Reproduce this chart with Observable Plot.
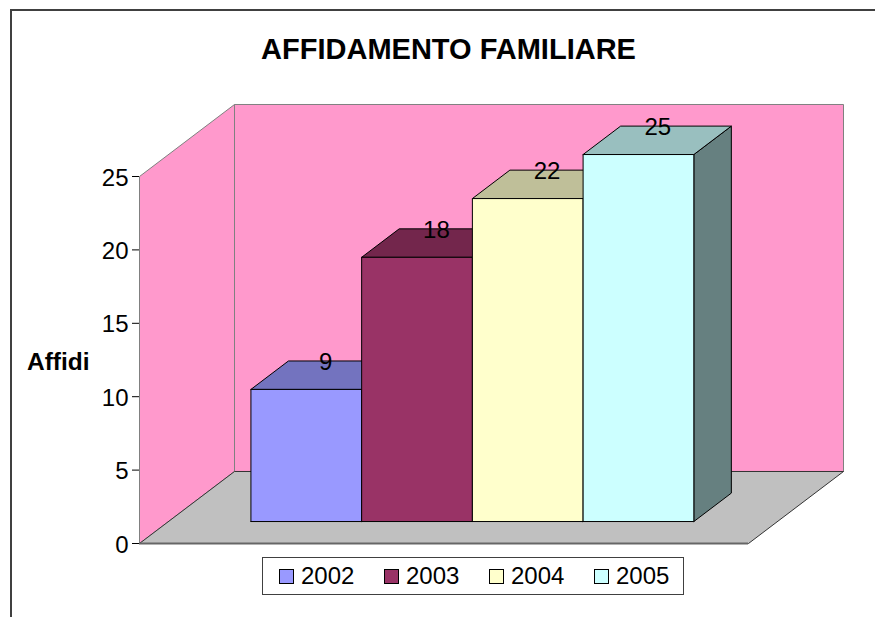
<!DOCTYPE html>
<html>
<head>
<meta charset="utf-8">
<script src="https://cdn.jsdelivr.net/npm/d3@7"></script>
<script src="https://cdn.jsdelivr.net/npm/@observablehq/plot@0.6"></script>
<style>
  html, body { margin: 0; padding: 0; background: #fff; width: 875px; height: 617px; overflow: hidden; font-family: "Liberation Sans", Arial, sans-serif; color: #000; }
  #frame { position: absolute; left: 10px; top: 9px; width: 865px; height: 608px; border-left: 2px solid #404040; border-top: 2px solid #404040; box-sizing: border-box; }
  #title { position: absolute; left: 0; width: 897px; top: 32px; text-align: center; font-size: 29px; font-weight: bold; line-height: 34px; }
  #chart { position: absolute; left: 0; top: 96px; }
  #chart svg { display: block; }
  #legend { position: absolute; left: 262px; top: 557px; width: 422px; height: 38px; box-sizing: border-box; border: 1px solid #404040; background: #fff; font-size: 24px; line-height: 36px; }
  .item { position: absolute; top: 0; white-space: nowrap; }
  .swatch { position: absolute; left: 0; top: 11px; width: 15px; height: 15px; box-sizing: border-box; border: 1px solid #000; }
  .label { position: absolute; left: 22px; top: 0; }
</style>
</head>
<body>
<div id="frame"></div>
<div id="title">AFFIDAMENTO FAMILIARE</div>
<div id="chart"></div>
<div id="legend"></div>
<script>
const years = ["2002", "2003", "2004", "2005"];
const affidi = [9, 18, 22, 25];
const frontColors = ["#9999FF", "#993366", "#FFFFCC", "#CCFFFF"];
const topColors = ["#7373BF", "#73264C", "#BFBF99", "#99BFBF"];
const sideColors = ["#4D4D80", "#4D1A33", "#808066", "#668080"];
const yTicks = [0, 5, 10, 15, 20, 25];
const yMax = 25;
const wallColor = "#FF99CC";
const floorColor = "#C0C0C0";

// Oblique projection: depth d (0 front of the floor, 1 back wall) shifts a point
// along the x and y data scales.
const xDomain = [-0.75, 4.75];
const depthX = 0.858;
const depthY = 4.905;
const barFront = 0.305;
const barBack = 0.70;

const P = (x, y, d) => ({X: x + d * depthX, Y: y + d * depthY});
const poly = (id, fill, stroke, pts) => {
  const corners = pts.map(([x, y, d]) => ({...P(x, y, d), id, fill, stroke}));
  return [...corners, corners[0]];
};

const [xa, xb] = xDomain;
const shell = [
  ...poly("left", wallColor, "#808080", [[xa, 0, 0], [xa, yMax, 0], [xa, yMax, 1], [xa, 0, 1]]),
  ...poly("back", wallColor, "#808080", [[xa, 0, 1], [xa, yMax, 1], [xb, yMax, 1], [xb, 0, 1]]),
  ...poly("floor", floorColor, "#333333", [[xa, 0, 0], [xb, 0, 0], [xb, 0, 1], [xa, 0, 1]])
];

const bars = years.flatMap((yr, i) => {
  const v = affidi[i];
  return [
    ...poly(yr + "side", sideColors[i], "#000", [[i + 1, 0, barFront], [i + 1, 0, barBack], [i + 1, v, barBack], [i + 1, v, barFront]]),
    ...poly(yr + "top", topColors[i], "#000", [[i, v, barFront], [i + 1, v, barFront], [i + 1, v, barBack], [i, v, barBack]]),
    ...poly(yr + "front", frontColors[i], "#000", [[i, 0, barFront], [i + 1, 0, barFront], [i + 1, v, barFront], [i, v, barFront]])
  ];
});

const labels = years.map((yr, i) => ({
  X: P(i + 0.5, 0, (barFront + barBack) / 2).X,
  Y: P(0, affidi[i], barBack).Y,
  text: String(affidi[i])
}));

const polyOpts = {x: "X", y: "Y", z: "id", fill: "fill", stroke: "stroke", strokeWidth: 1, strokeLinejoin: "miter", curve: "linear"};
const font = "'Liberation Sans', Arial, sans-serif";

const plot = Plot.plot({
  width: 875,
  height: 455,
  marginLeft: 139,
  marginRight: 127,
  marginTop: 80,
  marginBottom: 8,
  style: {fontFamily: font, background: "transparent", overflow: "visible"},
  x: {domain: xDomain, axis: null},
  y: {domain: [0, yMax], axis: null},
  marks: [
    Plot.line(shell, polyOpts),
    Plot.ruleY([0], {x1: xa, x2: xb, stroke: "#666666", strokeWidth: 2}),
    Plot.line(bars, {...polyOpts, dx: -0.6}),
    Plot.axisY({ticks: yTicks, tickSize: 7, color: "none", stroke: "#000", label: null}),
    Plot.axisY({ticks: yTicks, tickSize: 0, tickPadding: 11, dy: 1.5, fontSize: 24, label: null, color: "#000", tickFormat: d3.format("d")}),
    Plot.text(labels, {x: "X", y: "Y", text: "text", dy: 1.5, fontSize: 24, fill: "#000", textAnchor: "middle", lineAnchor: "middle"}),
    Plot.text(["Affidi"], {frameAnchor: "left", dx: -112.5, dy: 2, textAnchor: "start", fontSize: 24.5, fontWeight: "bold", fill: "#000"})
  ]
});
document.getElementById("chart").appendChild(plot);

const legend = document.getElementById("legend");
years.forEach((yr, i) => {
  const item = document.createElement("div");
  item.className = "item";
  item.style.left = (16 + i * 105) + "px";
  const sw = document.createElement("span");
  sw.className = "swatch";
  sw.style.background = frontColors[i];
  const lb = document.createElement("span");
  lb.className = "label";
  lb.textContent = yr;
  item.append(sw, lb);
  legend.appendChild(item);
});
</script>
</body>
</html>
